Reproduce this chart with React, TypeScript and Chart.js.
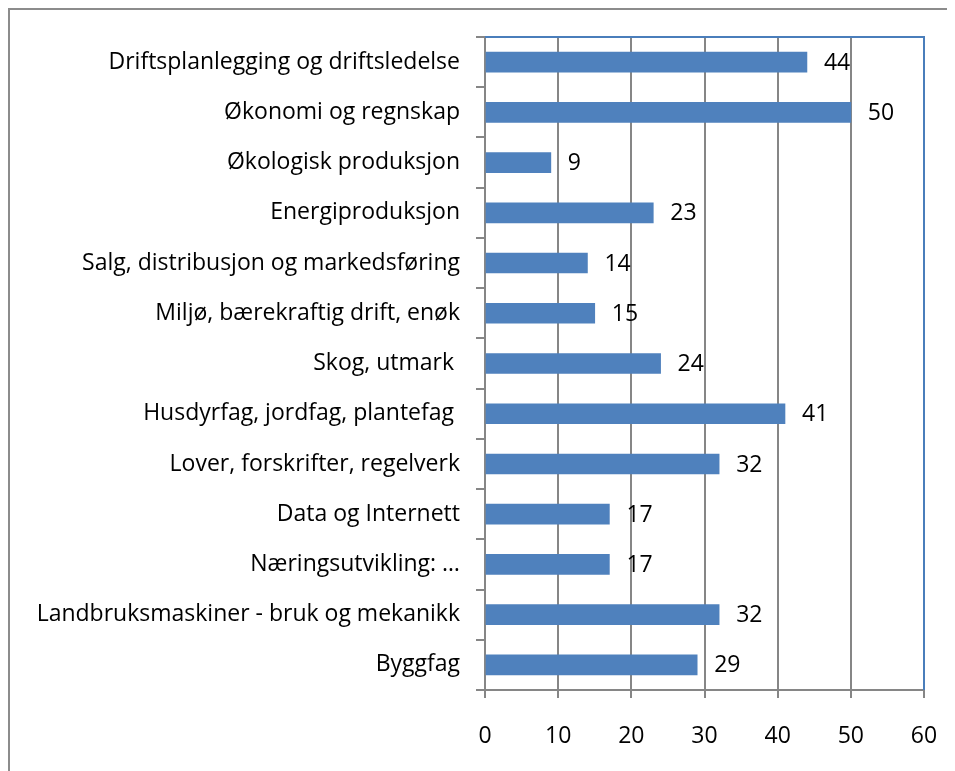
import { useEffect, useRef } from 'react';
import { Chart, registerables } from 'chart.js';

Chart.register(...registerables);

const categories = [
  'Driftsplanlegging og driftsledelse',
  'Økonomi og regnskap',
  'Økologisk produksjon',
  'Energiproduksjon',
  'Salg, distribusjon og markedsføring',
  'Miljø, bærekraftig drift, enøk',
  'Skog, utmark ',
  'Husdyrfag, jordfag, plantefag ',
  'Lover, forskrifter, regelverk',
  'Data og Internett',
  'Næringsutvikling: …',
  'Landbruksmaskiner - bruk og mekanikk',
  'Byggfag',
];

const values = [44, 50, 9, 23, 14, 15, 24, 41, 32, 17, 17, 32, 29];

const xMin = 0;
const xMax = 60;
const xStep = 10;

const FONT_FAMILY = '"Open Sans"';
const FONT_SIZE = 23;
const GRAY = '#868686';
const BLUE = '#4f81bd';

const framePlugin = {
  id: 'frame',
  afterDraw(chart: any) {
    const { ctx, chartArea } = chart;
    ctx.save();
    ctx.strokeStyle = '#4a7ebb';
    ctx.lineWidth = 2;
    ctx.beginPath();
    ctx.moveTo(chartArea.left, chartArea.top);
    ctx.lineTo(chartArea.right, chartArea.top);
    ctx.lineTo(chartArea.right, chartArea.bottom);
    ctx.stroke();
    ctx.restore();
  },
};

const valueLabelPlugin = {
  id: 'valueLabels',
  afterDatasetsDraw(chart: any) {
    const { ctx } = chart;
    const meta = chart.getDatasetMeta(0);
    ctx.save();
    ctx.fillStyle = '#000';
    ctx.font = `${FONT_SIZE}px ${FONT_FAMILY}`;
    ctx.textAlign = 'left';
    ctx.textBaseline = 'middle';
    meta.data.forEach((bar: any, i: number) => {
      ctx.fillText(String(values[i]), bar.x + 17, bar.y + 1);
    });
    ctx.restore();
  },
};

export default function App() {
  const ref = useRef<HTMLCanvasElement>(null);
  useEffect(() => {
    document.documentElement.style.overflow = 'hidden';
    const chart = new Chart(ref.current!, {
      type: 'bar',
      data: {
        labels: categories,
        datasets: [
          {
            data: values,
            backgroundColor: BLUE,
            barThickness: 20,
          },
        ],
      },
      options: {
        indexAxis: 'y',
        animation: false,
        responsive: false,
        events: [],
        layout: { padding: { top: 27, right: 31, left: 0, bottom: 0 } },
        plugins: {
          legend: { display: false },
          tooltip: { enabled: false },
        },
        scales: {
          x: {
            min: xMin,
            max: xMax,
            ticks: {
              stepSize: xStep,
              color: '#000',
              font: { family: FONT_FAMILY, size: FONT_SIZE },
              padding: 25,
            },
            grid: { color: GRAY, lineWidth: 2, tickLength: 8 },
            border: { color: GRAY, width: 2 },
            afterFit: (s: any) => {
              s.height = 81;
              s.paddingLeft = 0;
              s.paddingRight = 0;
            },
          },
          y: {
            ticks: {
              color: '#000',
              font: { family: FONT_FAMILY, size: FONT_SIZE },
              padding: 16,
              autoSkip: false,
            },
            grid: { drawOnChartArea: false, color: GRAY, lineWidth: 2, tickLength: 9 },
            border: { color: GRAY, width: 2 },
            afterFit: (s: any) => {
              s.width = 475;
              s.paddingTop = 0;
              s.paddingBottom = 0;
            },
          },
        },
      },
      plugins: [framePlugin, valueLabelPlugin],
    });
    return () => chart.destroy();
  }, []);
  return (
    <div
      style={{
        borderLeft: '2px solid #8c8c8c',
        borderTop: '2px solid #8c8c8c',
        width: 945,
        height: 761,
      }}
    >
      <canvas ref={ref} width={945} height={761} style={{ display: 'block', width: 945, height: 761 }} />
    </div>
  );
}
